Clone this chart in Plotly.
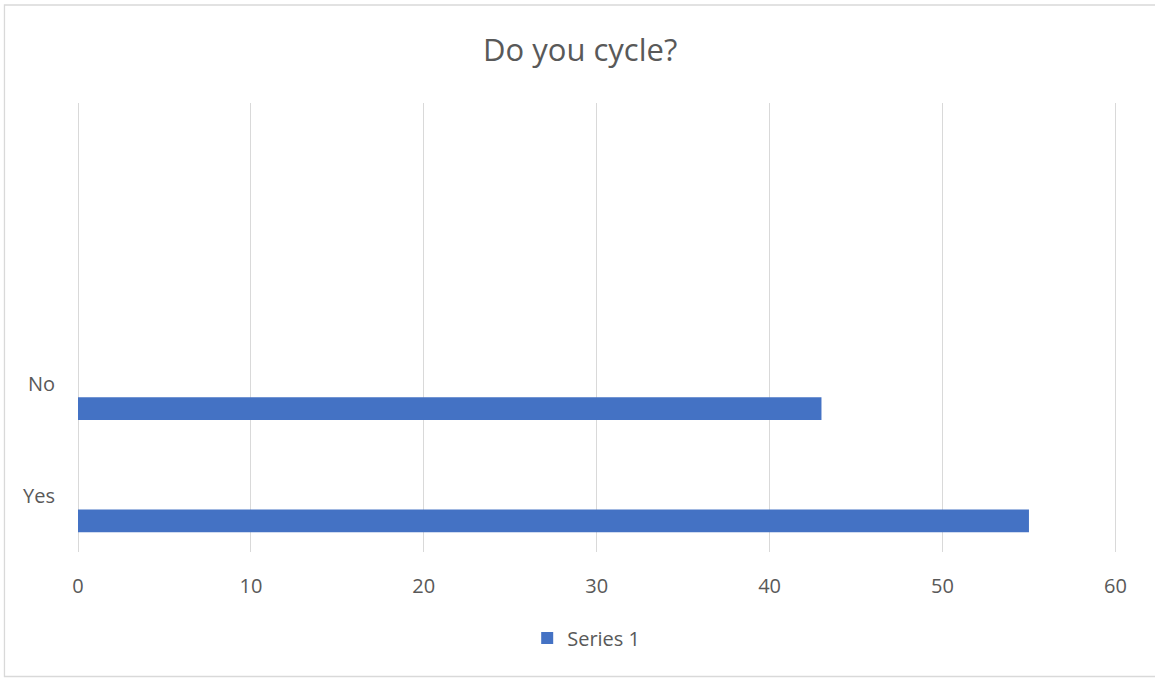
import plotly.graph_objects as go

# Data
categories = ["Yes", "No", " ", "  "]
answers = ["Yes", "No"]
counts = [55, 43]
series_name = "Series 1"
x_ticks = [0, 10, 20, 30, 40, 50, 60]

W, H = 1155, 678
X_MAX = 60.15
L, T, B = 78, 103, 126
pw = 1037 * X_MAX / 60
R = W - L - pw
ph = H - T - B

fig = go.Figure()
fig.add_trace(go.Bar(
    y=answers,
    x=counts,
    orientation="h",
    name=series_name,
    marker=dict(color="#4472C4", line=dict(width=0)),
    width=0.204,
    offset=-0.325,
    showlegend=True,
))


def px_x(x):
    return (x - L) / pw


def px_y(y):
    return (H - B - y) / ph


# light chart-area border (right edge falls outside the picture)
fig.add_shape(
    type="rect", xref="paper", yref="paper",
    x0=px_x(4.5), x1=px_x(1160), y0=px_y(676.5), y1=px_y(5),
    line=dict(color="#d9d9d9", width=1.3), layer="below",
)

fig.update_layout(
    width=W, height=H,
    margin=dict(l=L, r=R, t=T, b=B),
    paper_bgcolor="white",
    plot_bgcolor="white",
    font=dict(family="Open Sans, Liberation Sans, sans-serif", color="#595959", size=20),
    title=dict(
        text="Do you cycle?",
        x=px_x(580), xanchor="center", xref="paper",
        y=1 - 50 / H, yanchor="middle",
        font=dict(size=31, color="#595959"),
    ),
    bargap=0.8,
    legend=dict(
        orientation="h",
        x=px_x(586), xanchor="center",
        y=px_y(638), yanchor="middle",
        font=dict(size=20, color="#595959"),
        itemwidth=30,
    ),
    xaxis=dict(
        range=[0, X_MAX],
        tickvals=x_ticks,
        showgrid=True,
        gridcolor="#d9d9d9",
        gridwidth=1.3,
        zeroline=True,
        zerolinecolor="#d9d9d9",
        zerolinewidth=1.3,
        showline=False,
        ticks="",
        ticklabelstandoff=20,
        tickfont=dict(size=20, color="#595959"),
    ),
    yaxis=dict(
        type="category",
        categoryorder="array",
        categoryarray=categories,
        range=[-0.5, 3.5],
        showgrid=False,
        zeroline=False,
        showline=False,
        ticks="",
        tickvals=answers,
        ticklabelstandoff=22,
        tickfont=dict(size=20, color="#595959"),
    ),
)

fig.write_html(
    "out.html",
    config={"displayModeBar": False},
    post_script="document.body.style.margin='0';",
)
